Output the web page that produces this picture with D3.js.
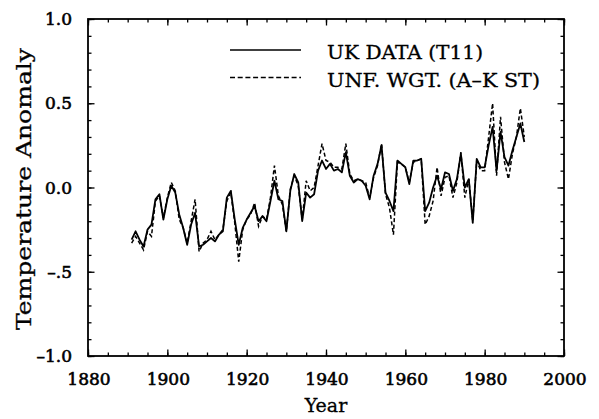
<!DOCTYPE html>
<html>
<head>
<meta charset="utf-8">
<script src="https://cdn.jsdelivr.net/npm/d3@7"></script>
<style>
  html, body { margin: 0; padding: 0; background: #fff; }
  svg { display: block; }
  text { font-family: "DejaVu Serif", "Liberation Serif", serif; fill: #000; }
</style>
</head>
<body>
<svg id="chart"></svg>
<script>
const years = d3.range(1891, 1991);

const ukData = [
  -0.31, -0.26, -0.31, -0.35, -0.25, -0.22, -0.07, -0.04, -0.19, -0.07,
   0.01, -0.03, -0.16, -0.24, -0.34, -0.22, -0.15, -0.35, -0.34, -0.32,
  -0.30, -0.32, -0.28, -0.26, -0.06, -0.02, -0.19, -0.34, -0.24, -0.19,
  -0.15, -0.11, -0.20, -0.17, -0.20, -0.08,  0.04, -0.07, -0.08, -0.26,
  -0.02,  0.08,  0.03, -0.20, -0.03, -0.06, -0.04,  0.10,  0.16,  0.11,
   0.14,  0.10,  0.11,  0.09,  0.21,  0.07,  0.03,  0.05,  0.04,  0.01,
  -0.07,  0.07,  0.14,  0.25, -0.03, -0.08, -0.14,  0.16,  0.14,  0.12,
   0.02,  0.16,  0.16,  0.17, -0.14, -0.09,  0.00,  0.07, -0.01,  0.09,
   0.08, -0.02,  0.05,  0.20,  0.00,  0.05, -0.21,  0.17,  0.12,  0.12,
   0.25,  0.36,  0.10,  0.33,  0.18,  0.13,  0.22,  0.30,  0.38,  0.27
];

const unfData = [
  -0.33, -0.29, -0.33, -0.37, -0.26, -0.29, -0.08, -0.05, -0.18, -0.06,
   0.03, -0.02, -0.19, -0.24, -0.33, -0.20, -0.07, -0.38, -0.33, -0.31,
  -0.26, -0.31, -0.28, -0.25, -0.08, -0.03, -0.21, -0.44, -0.25, -0.19,
  -0.16, -0.09, -0.23, -0.17, -0.19, -0.06,  0.13, -0.05, -0.10, -0.26,
  -0.01,  0.07,  0.01, -0.19,  0.04, -0.02,  0.00,  0.13,  0.26,  0.16,
   0.15,  0.12,  0.12,  0.11,  0.26,  0.08,  0.04,  0.05,  0.04,  0.03,
  -0.06,  0.06,  0.13,  0.26, -0.04, -0.12, -0.28,  0.15,  0.14,  0.12,
   0.03,  0.15,  0.16,  0.17, -0.22, -0.17, -0.08,  0.12, -0.05,  0.06,
   0.07, -0.06,  0.03,  0.21, -0.06,  0.05, -0.20,  0.16,  0.10,  0.10,
   0.30,  0.50,  0.07,  0.42,  0.15,  0.05,  0.20,  0.30,  0.47,  0.30
];

const xTicks = [1880, 1900, 1920, 1940, 1960, 1980, 2000];
const yTicks = [1.0, 0.5, 0.0, -0.5, -1.0];
const yTickLabels = ["1.0", "0.5", "0.0", "\u2013.5", "\u20131.0"];
const seriesNames = ["UK DATA (T11)", "UNF. WGT. (A\u2013K ST)"];

const width = 599, height = 419;
const margin = { top: 19, right: 35, bottom: 63, left: 88 };

const svg = d3.select("#chart").attr("width", width).attr("height", height);

const x = d3.scaleLinear().domain([1880, 2000]).range([margin.left, width - margin.right]);
const y = d3.scaleLinear().domain([-1, 1]).range([height - margin.bottom, margin.top]);

// frame ticks, all pointing inward; minor every 5 years / 0.1
const minorX = d3.range(1880, 2001, 5);
const minorY = d3.range(-10, 11).map(d => d / 10);

function tickAxis(axisFn, scale, vals, len, pos) {
  svg.append("g")
    .attr("transform", pos)
    .call(axisFn(scale).tickValues(vals).tickSize(len).tickFormat(""))
    .call(g => g.select(".domain").remove())
    .call(g => g.selectAll("line").attr("stroke", "#000").attr("stroke-width", 1.3));
}

const bottomY = y(-1), topY = y(1), leftX = x(1880), rightX = x(2000);

tickAxis(d3.axisTop, x, minorX, 3.5, `translate(0,${bottomY})`);
tickAxis(d3.axisTop, x, xTicks, 6.5, `translate(0,${bottomY})`);
tickAxis(d3.axisBottom, x, minorX, 3.5, `translate(0,${topY})`);
tickAxis(d3.axisBottom, x, xTicks, 6.5, `translate(0,${topY})`);
tickAxis(d3.axisRight, y, minorY, 3.5, `translate(${leftX},0)`);
tickAxis(d3.axisRight, y, yTicks, 6.5, `translate(${leftX},0)`);
tickAxis(d3.axisLeft, y, minorY, 3.5, `translate(${rightX},0)`);
tickAxis(d3.axisLeft, y, yTicks, 6.5, `translate(${rightX},0)`);

svg.append("rect")
  .attr("x", leftX).attr("y", topY)
  .attr("width", rightX - leftX).attr("height", bottomY - topY)
  .attr("fill", "none").attr("stroke", "#000").attr("stroke-width", 1.8);

// tick labels
svg.append("g").selectAll("text")
  .data(xTicks).join("text")
  .attr("x", d => x(d) + 1)
  .attr("y", bottomY + 29)
  .attr("text-anchor", "middle")
  .style("font-size", "17px")
  .style("stroke", "#000").style("stroke-width", 0.6)
  .text(d => d);

svg.append("g").selectAll("text")
  .data(yTicks).join("text")
  .attr("x", leftX - 16)
  .attr("y", d => y(d) + 6)
  .attr("text-anchor", "end")
  .style("font-size", "17px")
  .style("stroke", "#000").style("stroke-width", 0.6)
  .text((d, i) => yTickLabels[i]);

// axis titles
svg.append("text")
  .attr("x", 326).attr("y", 412)
  .attr("text-anchor", "middle")
  .style("font-size", "19px")
  .style("stroke", "#000").style("stroke-width", 0.3)
  .text("Year");

svg.append("text")
  .attr("transform", "translate(31,189) rotate(-90)")
  .attr("text-anchor", "middle")
  .attr("textLength", 282).attr("lengthAdjust", "spacingAndGlyphs")
  .style("font-size", "20px")
  .style("opacity", 0.99)
  .style("stroke", "#000").style("stroke-width", 0.3)
  .text("Temperature Anomaly");

// lines
const line = d3.line()
  .x((d, i) => x(years[i]))
  .y(d => y(d));

svg.append("path")
  .datum(unfData)
  .attr("d", line)
  .attr("fill", "none").attr("stroke", "#000")
  .attr("stroke-width", 1.5).attr("stroke-dasharray", "4,2.5");

svg.append("path")
  .datum(ukData)
  .attr("d", line)
  .attr("fill", "none").attr("stroke", "#000")
  .attr("stroke-width", 1.8).attr("stroke-linejoin", "round");

// legend
const legend = svg.append("g");
const legendRows = [
  { name: seriesNames[0], y: 50, dash: null, tw: 156, ty: 59 },
  { name: seriesNames[1], y: 77.5, dash: "5,2.7", tw: 213, ty: 87 }
];
legendRows.forEach(r => {
  legend.append("line")
    .attr("x1", 230).attr("x2", 301)
    .attr("y1", r.y).attr("y2", r.y)
    .attr("stroke", "#000").attr("stroke-width", r.dash ? 1.4 : 1.6)
    .attr("stroke-dasharray", r.dash);
  legend.append("text")
    .attr("x", 327).attr("y", r.ty)
    .attr("textLength", r.tw).attr("lengthAdjust", "spacingAndGlyphs")
    .style("font-size", "19px")
    .style("stroke", "#000").style("stroke-width", 0.3)
    .text(r.name);
});
</script>
</body>
</html>
